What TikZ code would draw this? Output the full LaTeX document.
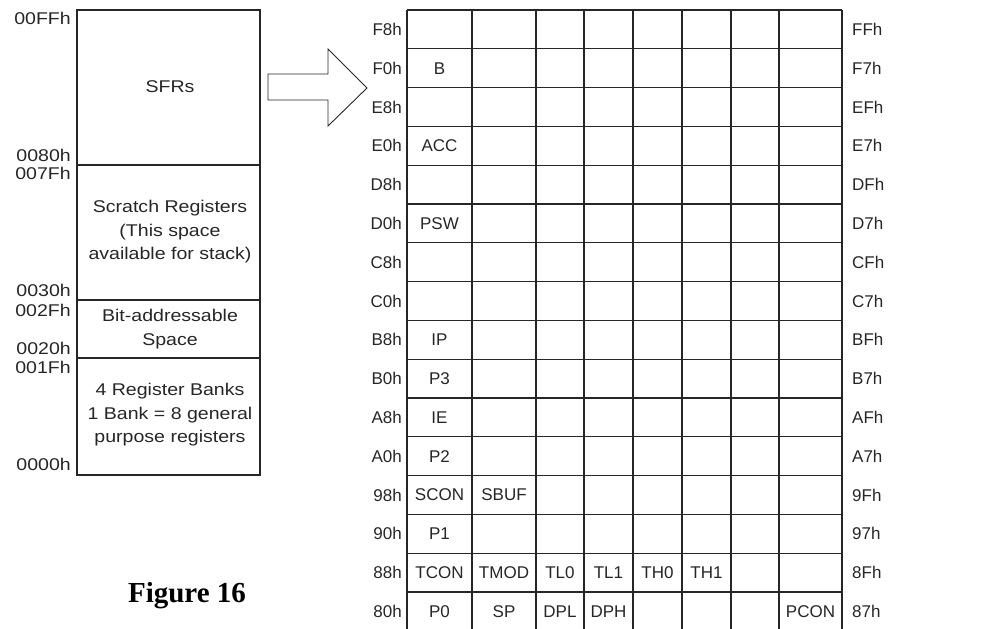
\documentclass[tikz,border=0pt]{standalone}
\usepackage{fontspec}
\setmainfont{Liberation Sans}
\newfontfamily\widefont[FakeStretch=1.15]{Liberation Sans}
\newfontfamily\captionfont{Liberation Serif}
\begin{document}
\begin{tikzpicture}[x=1pt,y=-1pt,
    addr/.style={font=\widefont\fontsize{17}{17}\selectfont,inner sep=0pt,text=black!85},
    hexlabel/.style={font=\fontsize{17}{17}\selectfont,inner sep=0pt,text=black!85},
    cell/.style={font=\fontsize{17}{17}\selectfont,inner sep=0pt,text=black!85},
    boxtext/.style={font=\widefont\fontsize{17}{23.5}\selectfont,align=center,inner sep=0pt,text=black!85},
    frame/.style={line width=1.3pt,black!85}]
    \useasboundingbox (0,0) rectangle (997,629);

    % Memory map
    \draw[frame] (77,10) rectangle (260,475);
    \draw[frame] (77,165) -- (260,165);
    \draw[frame] (77,300) -- (260,300);
    \draw[frame] (77,358) -- (260,358);

    % Address labels
    \node[addr,anchor=east] (a00FF) at (71,18) {00FFh};
    \node[addr,anchor=east] (a0080) at (71,155) {0080h};
    \node[addr,anchor=east] (a007F) at (71,173) {007Fh};
    \node[addr,anchor=east] (a0030) at (71,290) {0030h};
    \node[addr,anchor=east] (a002F) at (71,310) {002Fh};
    \node[addr,anchor=east] (a0020) at (71,348) {0020h};
    \node[addr,anchor=east] (a001F) at (71,367) {001Fh};
    \node[addr,anchor=east] (a0000) at (71,464) {0000h};

    % Areas
    \node[boxtext] (sfrs) at (170,87) {SFRs};
    \node[boxtext] (scratch) at (170,232) {Scratch Registers\\(This space\\available for stack)};
    \node[boxtext] (bitspace) at (170,329) {Bit-addressable\\Space};
    \node[boxtext] (banks) at (170,415) {4 Register Banks\\1 Bank = 8 general\\purpose registers};

    % Arrow
    \draw[line width=0.9pt,black!85] (268,74) -- (328,74) -- (328,49) -- (367,88)
        -- (328,126) -- (328,100) -- (268,100) -- cycle;

    % SFR grid
    \foreach \x in {407,472,536,584,633,682,731,779,842}
        \draw[frame] (\x,10) -- (\x,632);
    \foreach \i in {0,...,15}
        \draw[frame] (407,10+\i*38.8) -- (842,10+\i*38.8);

    % Row addresses
    \foreach \lo/\hi [count=\i from 0] in {F8h/FFh,F0h/F7h,E8h/EFh,E0h/E7h,D8h/DFh,D0h/D7h,
        C8h/CFh,C0h/C7h,B8h/BFh,B0h/B7h,A8h/AFh,A0h/A7h,98h/9Fh,90h/97h,88h/8Fh,80h/87h} {
        \node[hexlabel,anchor=east] (lo\i) at (402,29.4+\i*38.8) {\lo};
        \node[hexlabel,anchor=west] (hi\i) at (852,29.4+\i*38.8) {\hi};
    }

    % Registers
    \foreach \reg/\x/\r in {B/439.5/1,ACC/439.5/3,PSW/439.5/5,IP/439.5/8,P3/439.5/9,
        IE/439.5/10,P2/439.5/11,SCON/439.5/12,SBUF/504/12,P1/439.5/13,
        TCON/439.5/14,TMOD/504/14,TL0/560/14,TL1/608.5/14,TH0/657.5/14,TH1/706.5/14,
        P0/439.5/15,SP/504/15,DPL/560/15,DPH/608.5/15,PCON/810.5/15}
        \node[cell] (\reg) at (\x,29.4+\r*38.8) {\reg};

    % Caption
    \node[font=\captionfont\bfseries\fontsize{29}{29}\selectfont] (caption) at (187,596) {Figure 16};
\end{tikzpicture}
\end{document}
